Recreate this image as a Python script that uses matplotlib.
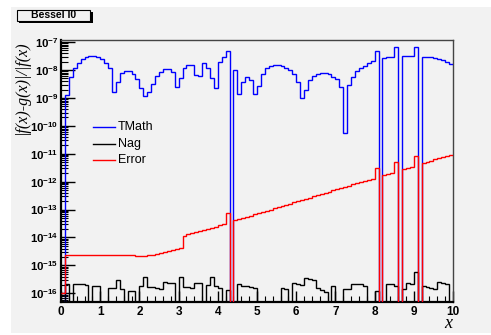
import numpy as np
import matplotlib
matplotlib.use("Agg")
import matplotlib.pyplot as plt
from matplotlib.patches import Rectangle
from matplotlib.lines import Line2D
from matplotlib.ticker import LogLocator, FixedLocator, MultipleLocator, NullFormatter, FixedFormatter

# ---------------- data (log10 of |f(x)-g(x)|/|f(x)|, None = empty bin) ----------------
x_min, x_max, n_bins = 0.0, 10.0, 100

tmath_log = [
    None, -8.90, -8.24, -7.94, -7.74, -7.61, -7.52, -7.49, -7.49, -7.52,
    -7.61, -7.74, -7.94, -8.78, -8.42, -8.10, -8.02, -8.04, -8.16, -8.33,
    -8.66, -8.93, -8.80, -8.51, -8.20, -8.06, -7.96, -7.96, -8.06, -8.60,
    -8.30, -7.94, -7.82, -7.82, -8.18, -8.20, -7.76, -7.94, -8.30, -8.66,
    -7.70, -7.55, -7.32, None, -8.00, -8.87, -8.42, -8.26, -8.36, -8.87,
    -8.56, -8.16, -7.94, -7.86, -7.82, -7.82, -7.86, -7.94, -8.00, -8.16,
    -8.42, -9.02, -8.72, -8.36, -8.22, -8.14, -8.10, -8.10, -8.14, -8.24,
    -8.33, -8.60, -10.25, -8.54, -8.24, -8.02, -7.94, -7.84, -7.76, -7.68,
    -7.31, None, -7.58, -7.55, -7.53, -7.19, None, -7.49, -7.49, -7.49,
    -7.19, None, -7.52, -7.53, -7.55, -7.58, -7.61, -7.64, -7.71, -7.79,
]

nag_log = [
    None, -15.65, None, -15.67, -15.67, -15.68, -15.69, None, -15.72, -15.74,
    None, None, -15.80, -15.80, -15.53, -15.86, None, -15.92, -15.93, None,
    -15.74, -15.43, -15.76, -15.78, -15.81, -15.83, -15.59, -15.62, -15.64, None,
    -15.43, -15.77, -15.79, -15.82, -15.62, -15.63, None, -15.71, -15.43, -15.74,
    -15.80, None, -15.89, None, None, -15.68, -15.72, -15.75, -15.78, -15.81,
    None, None, None, None, None, None, -15.80, -15.86, None, -15.62,
    -15.67, -15.69, -15.44, -15.50, -15.51, -15.82, -15.89, -15.95, None, -15.74,
    None, None, -15.86, -15.84, -15.65, -15.67, -15.68, -15.73, None, None,
    -15.92, None, None, -15.67, -15.68, -15.74, None, -15.85, -15.62, -15.65,
    -15.25, None, -15.73, -15.77, -15.82, -15.83, -15.61, -15.64, -15.66, None,
]

error_log = [
    -16.00, -14.61, -14.61, -14.61, -14.61, -14.61, -14.61, -14.61, -14.61, -14.61,
    -14.61, -14.61, -14.61, -14.62, -14.62, -14.63, -14.63, -14.64, -14.64, -14.65,
    -14.65, -14.66, -14.64, -14.61, -14.58, -14.55, -14.52, -14.49, -14.45, -14.41,
    -14.37, -13.93, -13.89, -13.85, -13.81, -13.77, -13.73, -13.69, -13.65, -13.61,
    -13.57, -13.53, -13.14, None, -13.39, -13.35, -13.30, -13.26, -13.22, -13.17,
    -13.13, -13.09, -13.05, -13.00, -12.96, -12.92, -12.87, -12.83, -12.79, -12.74,
    -12.70, -12.66, -12.62, -12.57, -12.53, -12.49, -12.44, -12.40, -12.36, -12.31,
    -12.27, -12.23, -12.18, -12.14, -12.10, -12.05, -12.01, -11.97, -11.93, -11.89,
    -11.52, None, -11.76, -11.72, -11.68, -11.31, None, -11.55, -11.51, -11.46,
    -11.08, None, -11.33, -11.29, -11.25, -11.20, -11.16, -11.12, -11.07, -11.03,
]

series_labels = ["TMath", "Nag", "Error"]
title_text = "Bessel I0"
x_tick_labels = ["0", "1", "2", "3", "4", "5", "6", "7", "8", "9", "10"]
y_decades = [-16, -15, -14, -13, -12, -11, -10, -9, -8, -7]

# ---------------- style ----------------
plt.rcParams['mathtext.fontset'] = 'custom'
plt.rcParams['mathtext.rm'] = 'Liberation Sans'
plt.rcParams['mathtext.bf'] = 'Liberation Sans:bold'
plt.rcParams['mathtext.it'] = 'Liberation Serif:italic'
plt.rcParams['font.family'] = ['Liberation Sans', 'DejaVu Sans']

W, H = 491, 335
BG = '#f2f2f2'

def fx(px):
    return px / W

def fy(py):
    return 1 - py / H

def to_vals(logs):
    return np.array([10.0 ** v if v is not None else 1e-30 for v in logs])

fig = plt.figure(figsize=(W / 100, H / 100), dpi=100)
fig.patch.set_facecolor('white')
fig.add_artist(Rectangle((fx(11), fy(333)), fx(491) - fx(11), fy(7) - fy(333),
                         transform=fig.transFigure, facecolor=BG, edgecolor='none', zorder=0))

ax_l, ax_r, ax_t, ax_b = 61, 453, 40, 301.7
ax = fig.add_axes([fx(ax_l), fy(ax_b), fx(ax_r) - fx(ax_l), fy(ax_t) - fy(ax_b)])
ax.set_facecolor(BG)

edges = np.linspace(x_min, x_max, n_bins + 1)
ax.stairs(to_vals(tmath_log), edges, baseline=None, color=(0, 0, 1), lw=1.0, zorder=3)
ax.stairs(to_vals(nag_log), edges, baseline=None, color='black', lw=1.0, zorder=3)
ax.stairs(to_vals(error_log), edges, baseline=None, color=(1, 0, 0), lw=1.0, zorder=4)

ax.set_yscale('log')
ax.set_xlim(x_min, x_max)
ax.set_ylim(10 ** -16.30, 10 ** -6.925)

ax.yaxis.set_major_locator(FixedLocator([10.0 ** d for d in y_decades]))
ax.yaxis.set_major_formatter(FixedFormatter([r'$\mathbf{10^{%d}}$' % d for d in y_decades]))
ax.yaxis.set_minor_locator(LogLocator(base=10, subs=np.arange(2, 10), numticks=100))
ax.yaxis.set_minor_formatter(NullFormatter())

ax.xaxis.set_major_locator(FixedLocator(np.arange(0, 11)))
ax.xaxis.set_major_formatter(FixedFormatter(x_tick_labels))
ax.xaxis.set_minor_locator(MultipleLocator(0.2))

ax.tick_params(axis='both', which='both', direction='in', top=False, right=False)
ax.tick_params(axis='y', which='major', length=10, width=1, pad=2, labelsize=8.2)
ax.tick_params(axis='y', which='minor', length=5, width=0.8)
ax.tick_params(axis='x', which='major', length=8, width=1, pad=3, labelsize=8.5)
ax.tick_params(axis='x', which='minor', length=4, width=0.8)
for lab in ax.get_xticklabels():
    lab.set_fontweight('bold')

for s in ['left', 'bottom']:
    ax.spines[s].set_color('black')
    ax.spines[s].set_linewidth(1.6)
for s in ['top', 'right']:
    ax.spines[s].set_color('#444444')
    ax.spines[s].set_linewidth(1.0)

# axis titles
fig.text(fx(22), fy(40), r'|f(x)-g(x)|/|f(x)', rotation=90, ha='center', va='top',
         fontsize=11.5, family='Liberation Serif', style='italic')
fig.text(fx(448), fy(324), 'x', ha='center', va='center', fontsize=13,
         family='Liberation Serif', style='italic')

# title box with shadow
fig.add_artist(Rectangle((fx(19), fy(23.3)), fx(92.7) - fx(19), fy(12) - fy(23.3),
                         transform=fig.transFigure, facecolor='black', edgecolor='none', zorder=5))
fig.add_artist(Rectangle((fx(16.7), fy(20.7)), fx(90) - fx(16.7), fy(10) - fy(20.7),
                         transform=fig.transFigure, facecolor=BG, edgecolor='black', lw=0.8, zorder=6))
fig.text(fx(53.3), fy(15.5), title_text, ha='center', va='center', fontsize=7.5,
         fontweight='bold', zorder=7)

# legend (no frame)
leg_colors = [(0, 0, 1), 'black', (1, 0, 0)]
leg_y = [127, 144, 160]
for lab, col, yy in zip(series_labels, leg_colors, leg_y):
    fig.add_artist(Line2D([fx(93), fx(115)], [fy(yy), fy(yy)], transform=fig.transFigure,
                          color=col, lw=1.0, zorder=6))
    fig.text(fx(118), fy(yy), lab, ha='left', va='center', fontsize=9, zorder=6)

fig.savefig('out.png', dpi=100, facecolor=fig.get_facecolor())
